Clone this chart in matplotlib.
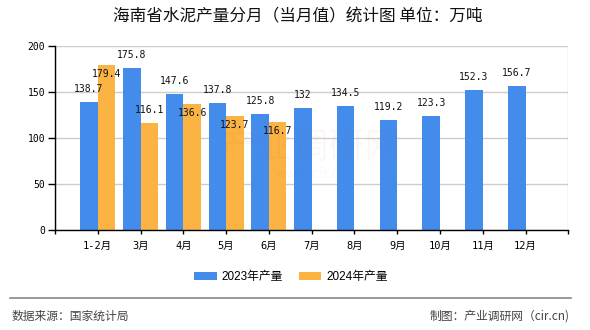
import matplotlib
matplotlib.use("Agg")
import matplotlib.pyplot as plt
from matplotlib.lines import Line2D
from matplotlib.patches import Patch
import numpy as np

categories = ["1-2月", "3月", "4月", "5月", "6月", "7月", "8月", "9月", "10月", "11月", "12月"]
values_2023 = [138.7, 175.8, 147.6, 137.8, 125.8, 132, 134.5, 119.2, 123.3, 152.3, 156.7]
values_2024 = [179.4, 116.1, 136.6, 123.7, 116.7]
label_pos_2024 = ["inside", "above", "inside", "inside", "inside"]
series_names = ["2023年产量", "2024年产量"]
yticks = [0, 50, 100, 150, 200]

title = "海南省水泥产量分月（当月值）统计图 单位：万吨"
source = "数据来源：国家统计局"
credit = "制图：产业调研网（cir.cn)"

BLUE = "#438CEB"
ORANGE = "#FBB443"
MONO = ["DejaVu Sans Mono", "Noto Sans CJK SC"]
SANS = ["Liberation Sans", "Noto Sans CJK SC"]
CJK = ["Noto Sans CJK SC", "DejaVu Sans"]

fig = plt.figure(figsize=(5.9, 3.3), dpi=100)
ax = fig.add_axes([55 / 590, 1 - 229.5 / 330, (568.3 - 55) / 590, (229.5 - 46) / 330])

x = np.arange(1, len(categories) + 1)
w = 0.41
ax.bar(x[:len(values_2023)] - w / 2, values_2023, width=w, color=BLUE, zorder=3)
x24 = x[:len(values_2024)]
ax.bar(x24 + w / 2, values_2024, width=w, color=ORANGE, zorder=3)

for xi, v in zip(x, values_2023):
    ax.annotate(f"{v:g}", (xi - w / 2, v), xytext=(0, 9.5), textcoords="offset points",
                ha="center", va="center", fontsize=7, family=MONO, color="#111", zorder=5)
for xi, v, pos in zip(x24, values_2024, label_pos_2024):
    dy = 9.5 if pos == "above" else -6.3
    ax.annotate(f"{v:g}", (xi + w / 2, v), xytext=(0, dy), textcoords="offset points",
                ha="center", va="center", fontsize=7, family=MONO, color="#111", zorder=5)

ax.set_xlim(0, 12)
ax.set_ylim(0, 200)
ax.set_yticks(yticks)
ax.set_yticklabels([str(t) for t in yticks], family=MONO, fontsize=7)
ax.set_xticks(x)
ax.set_xticklabels(categories, family=MONO, fontsize=7.5)
ax.set_xticks(np.arange(0, 13), minor=True)
ax.tick_params(axis="x", which="major", length=3, width=1, pad=5, colors="#000")
ax.tick_params(axis="x", which="minor", length=3, width=1)
ax.tick_params(axis="y", length=5, width=1, pad=2)

ax.grid(True, axis="y", color="#cccccc", lw=1, zorder=0)
ax.grid(True, axis="x", which="minor", color="#cccccc", lw=1, zorder=0)
for s in ["top", "right"]:
    ax.spines[s].set_visible(False)
for s in ["left", "bottom"]:
    ax.spines[s].set_color("#000")
    ax.spines[s].set_linewidth(1)
    ax.spines[s].set_zorder(4)

# faint watermark
fig.text(311 / 590, 1 - 148 / 330, "产业调研网", family=CJK, fontsize=26, color="#c04040",
         alpha=0.04, ha="center", va="center", zorder=10)
fig.text(311 / 590, 1 - 174 / 330, "www.cir.cn", family=["DejaVu Sans"], fontsize=10, color="#c04040",
         alpha=0.04, ha="center", va="center", zorder=10)

fig.text(298 / 590, 1 - 17 / 330, title, family=CJK, fontsize=12, color="#111",
         ha="center", va="center")

handles = [Patch(facecolor=BLUE, edgecolor="none"), Patch(facecolor=ORANGE, edgecolor="none")]
leg = fig.legend(handles, series_names, loc="center", bbox_to_anchor=(291 / 590, 1 - 277 / 330),
                 ncol=2, frameon=False, prop={"family": SANS, "size": 8.5},
                 handlelength=1.9, handleheight=0.75, handletextpad=0.45, columnspacing=1.3,
                 borderpad=0, borderaxespad=0)

fig.add_artist(Line2D([10 / 590, 571 / 590], [1 - 297.7 / 330] * 2, color="#888888", lw=1.2))
fig.text(12 / 590, 1 - 316 / 330, source, family=CJK, fontsize=8.5, color="#444",
         ha="left", va="center")
fig.text(570 / 590, 1 - 316 / 330, credit, family=["Noto Sans CJK SC", "DejaVu Sans Mono"],
         fontsize=8.5, color="#444", ha="right", va="center")

fig.savefig("out.png", dpi=100)
